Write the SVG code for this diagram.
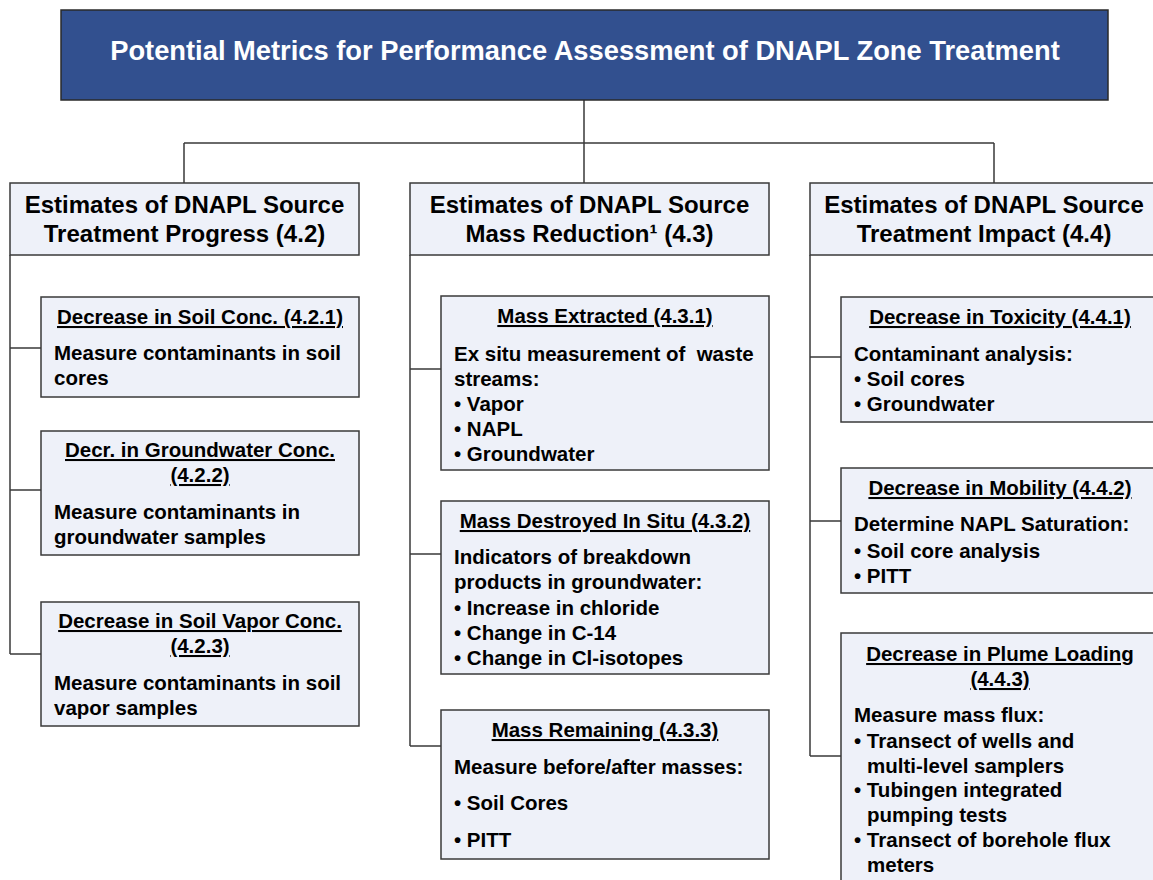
<svg xmlns="http://www.w3.org/2000/svg" width="1153" height="880" viewBox="0 0 1153 880">
<style>
text{font-family:"Liberation Sans",Arial,sans-serif;font-weight:bold;fill:#000}
.box{fill:#EEF1F9;stroke:#3a3a3a;stroke-width:1.5}
.title{fill:#32508F;stroke:#2a2a2a;stroke-width:1.5}
.tt{font-size:27.3px;fill:#fff;text-anchor:middle}
.hd{font-size:24px;text-anchor:middle}
.st{font-size:20.5px;text-anchor:middle;text-decoration:underline}
.bd{font-size:20.5px;white-space:pre}
.con{fill:none;stroke:#3a3a3a;stroke-width:1.5}
</style>
<rect width="1153" height="880" fill="#fff"/>
<g id="connectors">
<path class="con" d="M584,100V143M184,143H994M184,143V183M584,143V183M994,143V183"/>
<path class="con" d="M10,255V654M10,348H41M10,490H41M10,654H41"/>
<path class="con" d="M410,255V746M410,369H441M410,554H441M410,746H441"/>
<path class="con" d="M810,255V756M810,357H841M810,521H841M810,756H841"/>
</g>
<g id="title">
<rect class="title" x="61" y="10" width="1047" height="90"/>
<text class="tt" x="585" y="60">Potential Metrics for Performance Assessment of DNAPL Zone Treatment</text>
</g>
<g id="h42">
<rect class="box" x="10" y="183" width="349" height="72"/>
<text class="hd" x="184.5" y="213">Estimates of DNAPL Source</text>
<text class="hd" x="184.5" y="242">Treatment Progress (4.2)</text>
</g>
<g id="h43">
<rect class="box" x="410" y="183" width="359" height="72"/>
<text class="hd" x="589.5" y="213">Estimates of DNAPL Source</text>
<text class="hd" x="589.5" y="242">Mass Reduction¹ (4.3)</text>
</g>
<g id="h44">
<rect class="box" x="810" y="183" width="350" height="72"/>
<text class="hd" x="984" y="213">Estimates of DNAPL Source</text>
<text class="hd" x="984" y="242">Treatment Impact (4.4)</text>
</g>
<g id="b421">
<rect class="box" x="41" y="297" width="318" height="100"/>
<text class="st" x="200" y="324">Decrease in Soil Conc. (4.2.1)</text>
<text class="bd" x="54" y="360">Measure contaminants in soil</text>
<text class="bd" x="54" y="385">cores</text>
</g>
<g id="b422">
<rect class="box" x="41" y="431" width="318" height="124"/>
<text class="st" x="200" y="457">Decr. in Groundwater Conc.</text>
<text class="st" x="200" y="482">(4.2.2)</text>
<text class="bd" x="54" y="519">Measure contaminants in</text>
<text class="bd" x="54" y="544">groundwater samples</text>
</g>
<g id="b423">
<rect class="box" x="41" y="602" width="318" height="124"/>
<text class="st" x="200" y="628">Decrease in Soil Vapor Conc.</text>
<text class="st" x="200" y="653">(4.2.3)</text>
<text class="bd" x="54" y="690">Measure contaminants in soil</text>
<text class="bd" x="54" y="715">vapor samples</text>
</g>
<g id="b431">
<rect class="box" x="441" y="296" width="328" height="174"/>
<text class="st" x="605" y="323">Mass Extracted (4.3.1)</text>
<text class="bd" x="454" y="361">Ex situ measurement of  waste</text>
<text class="bd" x="454" y="386">streams:</text>
<text class="bd" x="454" y="411">• Vapor</text>
<text class="bd" x="454" y="436">• NAPL</text>
<text class="bd" x="454" y="461">• Groundwater</text>
</g>
<g id="b432">
<rect class="box" x="441" y="501" width="328" height="173"/>
<text class="st" x="605" y="528">Mass Destroyed In Situ (4.3.2)</text>
<text class="bd" x="454" y="564">Indicators of breakdown</text>
<text class="bd" x="454" y="589">products in groundwater:</text>
<text class="bd" x="454" y="615">• Increase in chloride</text>
<text class="bd" x="454" y="640">• Change in C-14</text>
<text class="bd" x="454" y="665">• Change in Cl-isotopes</text>
</g>
<g id="b433">
<rect class="box" x="441" y="710" width="328" height="149"/>
<text class="st" x="605" y="737">Mass Remaining (4.3.3)</text>
<text class="bd" x="454" y="774">Measure before/after masses:</text>
<text class="bd" x="454" y="810">• Soil Cores</text>
<text class="bd" x="454" y="847">• PITT</text>
</g>
<g id="b441">
<rect class="box" x="841" y="297" width="320" height="125"/>
<text class="st" x="1000" y="324">Decrease in Toxicity (4.4.1)</text>
<text class="bd" x="854" y="361">Contaminant analysis:</text>
<text class="bd" x="854" y="386">• Soil cores</text>
<text class="bd" x="854" y="411">• Groundwater</text>
</g>
<g id="b442">
<rect class="box" x="841" y="468" width="320" height="125"/>
<text class="st" x="1000" y="495">Decrease in Mobility (4.4.2)</text>
<text class="bd" x="854" y="531">Determine NAPL Saturation:</text>
<text class="bd" x="854" y="558">• Soil core analysis</text>
<text class="bd" x="854" y="583">• PITT</text>
</g>
<g id="b443">
<rect class="box" x="841" y="633" width="320" height="270"/>
<text class="st" x="1000" y="661">Decrease in Plume Loading</text>
<text class="st" x="1000" y="686">(4.4.3)</text>
<text class="bd" x="854" y="722">Measure mass flux:</text>
<text class="bd" x="854" y="748">• Transect of wells and</text>
<text class="bd" x="867" y="773">multi-level samplers</text>
<text class="bd" x="854" y="797">• Tubingen integrated</text>
<text class="bd" x="867" y="822">pumping tests</text>
<text class="bd" x="854" y="847">• Transect of borehole flux</text>
<text class="bd" x="867" y="872">meters</text>
</g>
</svg>
